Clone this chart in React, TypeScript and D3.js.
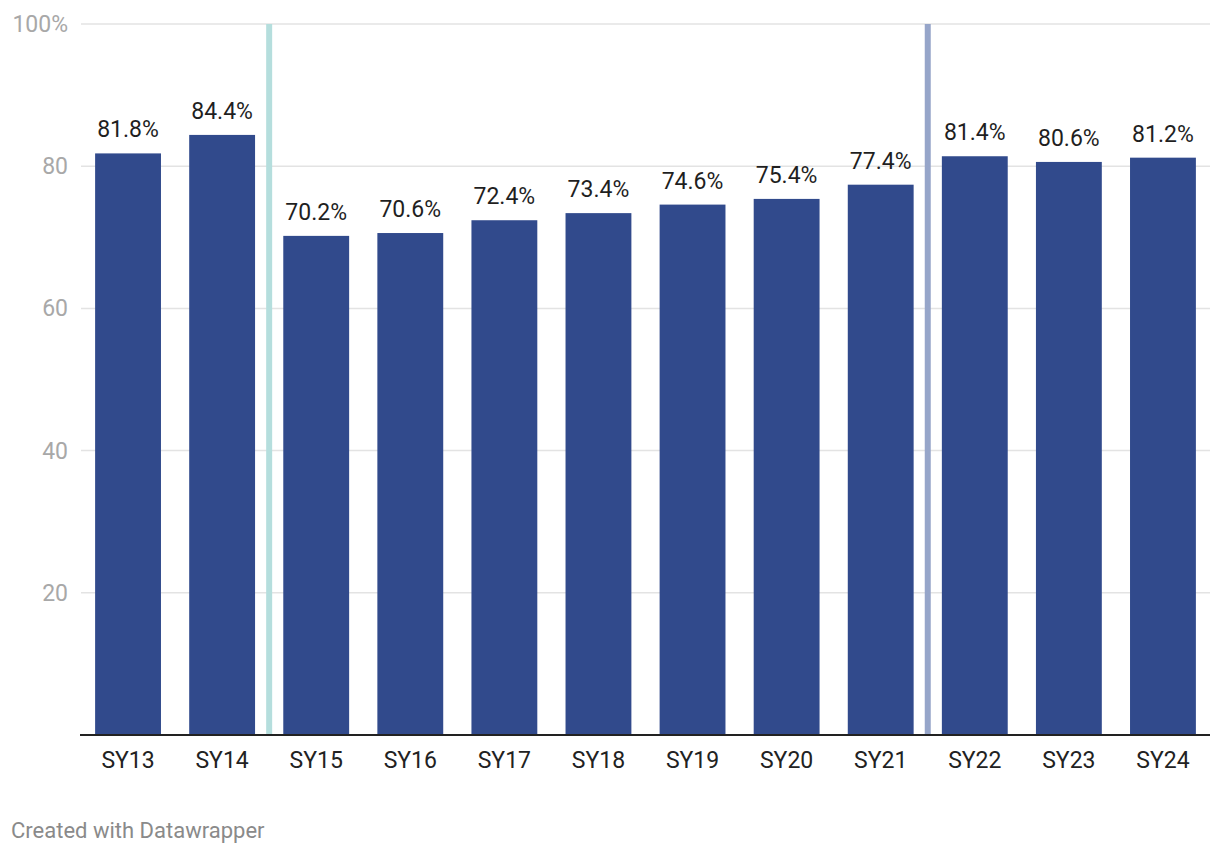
import React from "react";
import * as d3 from "d3";

const categories = ["SY13","SY14","SY15","SY16","SY17","SY18","SY19","SY20","SY21","SY22","SY23","SY24"];
const values = [81.8,84.4,70.2,70.6,72.4,73.4,74.6,75.4,77.4,81.4,80.6,81.2];
const yTicks = [20,40,60,80,100];
const markers = [
  { after: "SY14", color: "#b5dedd" },
  { after: "SY21", color: "#96a5c9" },
];

export default function App() {
  const W = 1220, H = 856;
  const left = 81, right = 1210, top = 24, bottom = 735;
  const x = d3.scaleBand<string>().domain(categories).range([left, right]).paddingInner(0.3).paddingOuter(0.15);
  const y = d3.scaleLinear().domain([0, 100]).range([bottom, top]);
  const font = "Roboto, sans-serif";
  return (
    <svg width={W} height={H} style={{ position: "absolute", left: 0, top: 0 }} fontFamily={font}>
      {yTicks.map(t => (
        <g key={t}>
          <line x1={left} x2={right} y1={y(t)} y2={y(t)} stroke="#e3e3e3" strokeWidth={1.5} />
          <text x={68} y={y(t)} dy="0.35em" textAnchor="end" fontSize={23} fill="#a8a8a8">{t === 100 ? "100%" : t}</text>
        </g>
      ))}
      {markers.map(m => {
        const i = categories.indexOf(m.after);
        const xm = (x(categories[i])! + x.bandwidth() + x(categories[i + 1])!) / 2;
        return <line key={m.after} x1={xm} x2={xm} y1={y(100)} y2={bottom} stroke={m.color} strokeWidth={6} />;
      })}
      {categories.map((c, i) => (
        <g key={c}>
          <rect x={x(c)} y={y(values[i])} width={x.bandwidth()} height={bottom - y(values[i])} fill="#314a8c" />
          <text x={x(c)! + x.bandwidth() / 2} y={y(values[i]) - 16} textAnchor="middle" fontSize={23} fill="#1f1f1f">{values[i].toFixed(1)}%</text>
          <text x={x(c)! + x.bandwidth() / 2} y={768} textAnchor="middle" fontSize={23} fill="#222">{c}</text>
        </g>
      ))}
      <line x1={80} x2={right} y1={bottom} y2={bottom} stroke="#222" strokeWidth={2} />
      <text x={11} y={838} fontSize={22} fill="#8a8a8a">Created with Datawrapper</text>
    </svg>
  );
}
